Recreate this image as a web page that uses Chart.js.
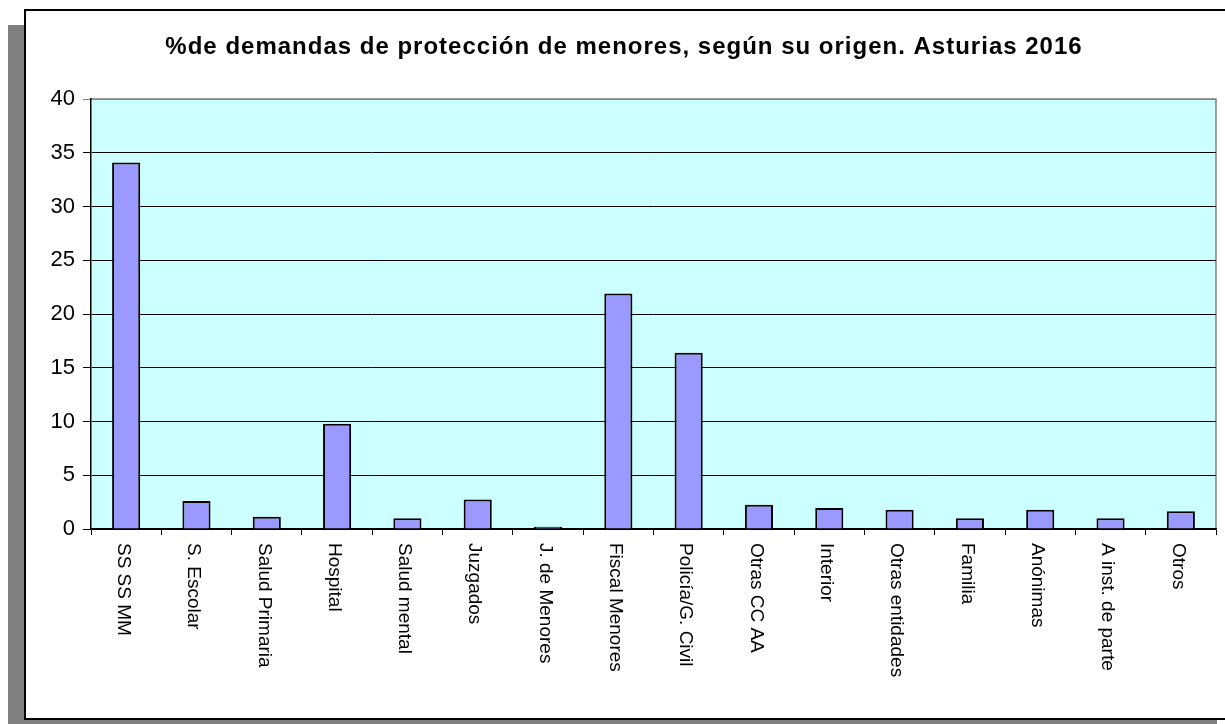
<!DOCTYPE html>
<html>
<head>
<meta charset="utf-8">
<script src="https://cdn.jsdelivr.net/npm/chart.js@4.4.1/dist/chart.umd.min.js"></script>
<style>
  html, body { margin: 0; padding: 0; background: #fff; }
  canvas { display: block; }
</style>
</head>
<body>
<canvas id="myChart" width="1225" height="724"></canvas>
<script>
// datos
var titulo = '%de demandas de protección de menores, según su origen. Asturias 2016';
var categorias = ['SS SS MM', 'S. Escolar', 'Salud Primaria', 'Hospital', 'Salud mental',
    'Juzgados', 'J. de Menores', 'Fiscal Menores', 'Policía/G. Civil', 'Otras CC AA',
    'Interior', 'Otras entidades', 'Familia', 'Anónimas', 'A inst. de parte', 'Otros'];
var porcentajes = [34.1, 2.6, 1.15, 9.8, 1.0, 2.75, 0.2, 21.9, 16.4, 2.25, 1.95, 1.8, 1.0, 1.8, 1.0, 1.65];
var ticksY = [0, 5, 10, 15, 20, 25, 30, 35, 40];

// marco con sombra y fondo del area de trazado
var marco = {
    id: 'marco',
    beforeDraw: function (chart) {
        var c = chart.ctx;
        var a = chart.chartArea;
        c.save();
        c.fillStyle = '#808080';
        c.fillRect(8, 25, 16, 699);
        c.fillRect(8, 719, 1209, 5);
        c.fillStyle = '#fff';
        c.fillRect(24, 9, 1210, 710);
        c.strokeStyle = '#000';
        c.lineWidth = 2;
        c.strokeRect(25, 10, 1210, 709);
        c.fillStyle = '#CCFFFF';
        c.fillRect(a.left, a.top, a.right - a.left, a.bottom - a.top);
        c.strokeStyle = '#808080';
        c.lineWidth = 1.5;
        c.beginPath();
        c.moveTo(a.left, a.top);
        c.lineTo(a.right, a.top);
        c.lineTo(a.right, a.bottom);
        c.stroke();
        c.restore();
    },
    afterDraw: function (chart) {
        var c = chart.ctx;
        var x = chart.scales.x;
        c.save();
        c.fillStyle = '#000';
        c.font = '19px "Liberation Sans", Arial, sans-serif';
        c.textAlign = 'left';
        c.textBaseline = 'middle';
        categorias.forEach(function (lab, i) {
            c.save();
            c.translate(x.getPixelForValue(i) - 3, 543);
            c.rotate(Math.PI / 2);
            c.fillText(lab, 0, 0);
            c.restore();
        });
        // titulo
        c.font = 'bold 24px "Liberation Sans", Arial, sans-serif';
        c.letterSpacing = '1px';
        c.textAlign = 'center';
        c.fillText(titulo, 624, 47);
        c.restore();
    }
};

const ctx = document.getElementById('myChart').getContext('2d');
const myChart = new Chart(ctx, {
    type: 'bar',
    data: {
        labels: categorias,
        datasets: [{
            label: '%',
            data: porcentajes,
            backgroundColor: '#9999FF',
            borderColor: '#000',
            borderWidth: 2,
            barPercentage: 0.4,
            categoryPercentage: 1
        }]
    },
    options: {
        responsive: false,
        animation: false,
        layout: { padding: { left: 24, right: 9, top: 99, bottom: 5 } },
        plugins: {
            legend: { display: false },
            tooltip: { enabled: false },
            title: { display: false }
        },
        scales: {
            x: {
                afterFit: function (s) { s.height = 190; },
                border: { color: '#000', width: 1.5 },
                grid: {
                    offset: true,
                    drawOnChartArea: false,
                    drawTicks: true,
                    tickLength: 6,
                    color: '#000'
                },
                ticks: { display: false }
            },
            y: {
                min: 0,
                max: 40,
                afterFit: function (s) { s.width = 67; },
                afterBuildTicks: function (s) {
                    s.ticks = ticksY.map(function (v) { return { value: v }; });
                },
                border: { color: '#000', width: 1.5 },
                grid: {
                    color: function (c) { return c.tick && c.tick.value === 40 ? '#808080' : '#000'; },
                    tickLength: 8
                },
                ticks: {
                    color: '#000',
                    padding: 8,
                    font: { family: '"Liberation Sans", Arial, sans-serif', size: 22 }
                }
            }
        }
    },
    plugins: [marco]
});
</script>
</body>
</html>
